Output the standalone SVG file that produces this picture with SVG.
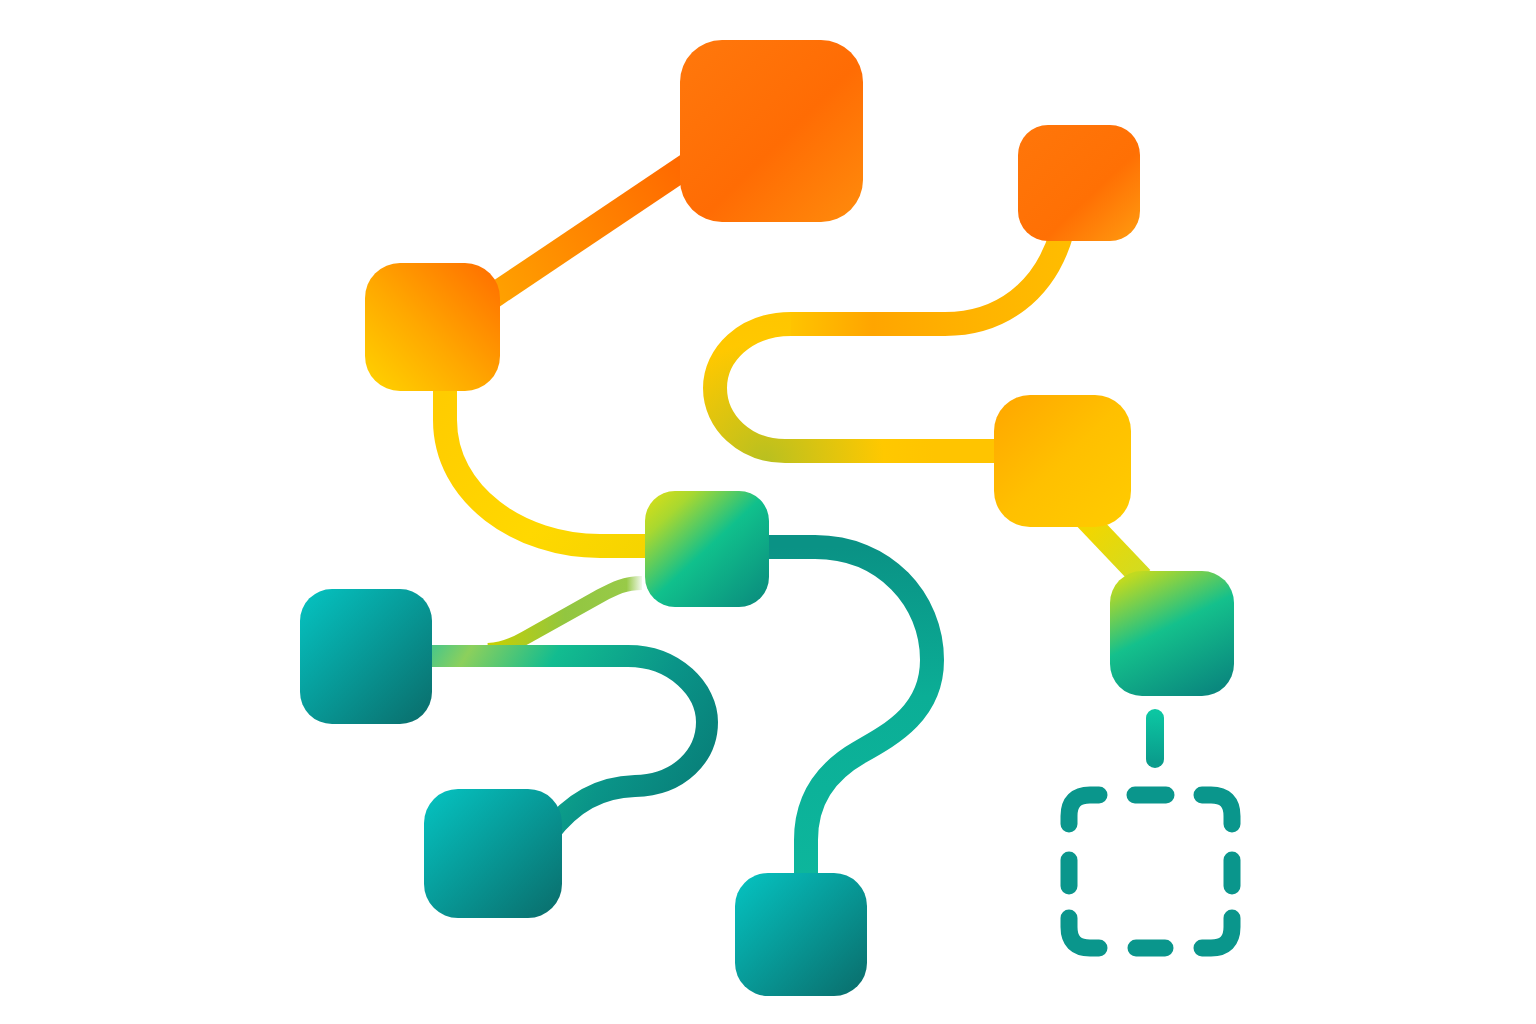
<svg xmlns="http://www.w3.org/2000/svg" width="1536" height="1024" viewBox="0 0 1536 1024">
<style>
.link{fill:none;stroke-linecap:butt;stroke-linejoin:round}
.round{stroke-linecap:round}
.dash{fill:none;stroke:#0A968C;stroke-width:17;stroke-linecap:round}
</style>
<defs>
<linearGradient id="gOrangeBig" x1="0" y1="0" x2="1" y2="1"><stop offset="0" stop-color="#FF780C"/><stop offset="0.55" stop-color="#FF6C04"/><stop offset="1" stop-color="#FF8C0C"/></linearGradient>
<linearGradient id="gOrangeSmall" x1="0" y1="0" x2="1" y2="1"><stop offset="0" stop-color="#FF760A"/><stop offset="0.6" stop-color="#FF7004"/><stop offset="1" stop-color="#FF9C10"/></linearGradient>
<linearGradient id="gOrangeYellow" x1="0" y1="1" x2="1" y2="0"><stop offset="0" stop-color="#FFD400"/><stop offset="0.45" stop-color="#FFA800"/><stop offset="1" stop-color="#FF6C00"/></linearGradient>
<linearGradient id="gYellow" x1="0" y1="0" x2="1" y2="1"><stop offset="0" stop-color="#FFA600"/><stop offset="0.5" stop-color="#FFC000"/><stop offset="1" stop-color="#FFCC00"/></linearGradient>
<linearGradient id="gGreenC" x1="0" y1="0" x2="1" y2="1"><stop offset="0" stop-color="#E2E012"/><stop offset="0.2" stop-color="#A8D830"/><stop offset="0.5" stop-color="#10C08C"/><stop offset="1" stop-color="#0A887C"/></linearGradient>
<linearGradient id="gGreenR" x1="0.25" y1="0" x2="0.75" y2="1"><stop offset="0" stop-color="#C0DA20"/><stop offset="0.45" stop-color="#14C08C"/><stop offset="1" stop-color="#0A887E"/></linearGradient>
<linearGradient id="gTeal" x1="0" y1="0" x2="1" y2="1"><stop offset="0" stop-color="#05C4C2"/><stop offset="1" stop-color="#0A6C6A"/></linearGradient>
<linearGradient id="lA" gradientUnits="userSpaceOnUse" x1="497" y1="293" x2="681" y2="170"><stop offset="0" stop-color="#FFA000"/><stop offset="1" stop-color="#FF6A00"/></linearGradient>
<linearGradient id="lB" gradientUnits="userSpaceOnUse" x1="445" y1="390" x2="650" y2="546"><stop offset="0" stop-color="#FFCC00"/><stop offset="0.6" stop-color="#FFD800"/><stop offset="1" stop-color="#F5D400"/></linearGradient>
<linearGradient id="lC1" gradientUnits="userSpaceOnUse" x1="790" y1="0" x2="1065" y2="0"><stop offset="0" stop-color="#FFC400"/><stop offset="0.3" stop-color="#FFA500"/><stop offset="0.7" stop-color="#FFB400"/><stop offset="1" stop-color="#FFBC00"/></linearGradient>
<radialGradient id="lC2" gradientUnits="userSpaceOnUse" cx="765" cy="462" r="170"><stop offset="0" stop-color="#B8C020"/><stop offset="0.35" stop-color="#DCC410"/><stop offset="0.7" stop-color="#FFC800"/><stop offset="1" stop-color="#FFC400"/></radialGradient>
<linearGradient id="lD" gradientUnits="userSpaceOnUse" x1="1091" y1="525" x2="1139" y2="575"><stop offset="0" stop-color="#F2D600"/><stop offset="1" stop-color="#D2DC20"/></linearGradient>
<linearGradient id="lE" gradientUnits="userSpaceOnUse" x1="0" y1="547" x2="0" y2="880"><stop offset="0" stop-color="#0A9285"/><stop offset="0.45" stop-color="#0BAE96"/><stop offset="1" stop-color="#0DB69C"/></linearGradient>
<linearGradient id="lF" gradientUnits="userSpaceOnUse" x1="642" y1="0" x2="488" y2="0"><stop offset="0" stop-color="#F2F8EE"/><stop offset="0.1" stop-color="#98CA48"/><stop offset="0.5" stop-color="#92C640"/><stop offset="1" stop-color="#C8D000"/></linearGradient>
<linearGradient id="lG" gradientUnits="userSpaceOnUse" x1="440" y1="640" x2="700" y2="800"><stop offset="0" stop-color="#50C884"/><stop offset="0.1" stop-color="#8CD05C"/><stop offset="0.35" stop-color="#12BC90"/><stop offset="0.7" stop-color="#0A9488"/><stop offset="1" stop-color="#087E78"/></linearGradient>
<linearGradient id="lH" gradientUnits="userSpaceOnUse" x1="0" y1="712" x2="0" y2="762"><stop offset="0" stop-color="#0CC6A2"/><stop offset="1" stop-color="#0A9C8C"/></linearGradient>
</defs>
<rect width="1536" height="1024" fill="#FFFFFF"/>
<g id="connectors">
<path class="link" stroke="url(#lA)" stroke-width="25" d="M490,298 L688,165"/>
<path class="link" stroke="url(#lB)" stroke-width="24" d="M445,385 L445,420 C445,495 520,546 600,546 L650,546"/>
<path class="link" stroke="url(#lC1)" stroke-width="24" d="M1062,232 C1045,292 1000,324 945,324 L790,324"/>
<path class="link" stroke="url(#lC2)" stroke-width="24" d="M791,324 C745,324 715,355 715,388 C715,422 745,451 785,451 L1000,451"/>
<path class="link" stroke="url(#lD)" stroke-width="23" d="M1085,518 L1142,578"/>
<path class="link" stroke="url(#lE)" stroke-width="24" d="M765,547 L815,547 C885,547 932,600 932,660 C932,712 892,734 860,752 C825,772 806,800 806,840 L806,880"/>
<path class="link" stroke="url(#lF)" stroke-width="14" d="M642,583 C625,583 615,588 600,596 L525,638 C513,645 503,649 488,650"/>
<path class="link" stroke="url(#lG)" stroke-width="22" d="M428,656 L628,656 C675,656 707,690 707,722 C707,755 680,785 635,786 C600,787 572,802 548,834"/>
<path class="link round" stroke="url(#lH)" stroke-width="18" d="M1155,718 L1155,759"/>
</g>
<g id="node-orange-big"><rect x="680" y="40" width="183" height="182" rx="42" fill="url(#gOrangeBig)"/></g>
<g id="node-orange-small"><rect x="1018" y="125" width="122" height="116" rx="30" fill="url(#gOrangeSmall)"/></g>
<g id="node-orange-yellow"><rect x="365" y="263" width="135" height="128" rx="35" fill="url(#gOrangeYellow)"/></g>
<g id="node-yellow"><rect x="994" y="395" width="137" height="132" rx="36" fill="url(#gYellow)"/></g>
<g id="node-green-center"><rect x="645" y="491" width="124" height="116" rx="30" fill="url(#gGreenC)"/></g>
<g id="node-green-right"><rect x="1110" y="571" width="124" height="125" rx="32" fill="url(#gGreenR)"/></g>
<g id="node-teal-left"><rect x="300" y="589" width="132" height="135" rx="32" fill="url(#gTeal)"/></g>
<g id="node-teal-bottom-left"><rect x="424" y="789" width="138" height="129" rx="34" fill="url(#gTeal)"/></g>
<g id="node-teal-bottom"><rect x="735" y="873" width="132" height="123" rx="33" fill="url(#gTeal)"/></g>
<g id="node-dashed">
<path class="dash" d="M1069,824 L1069,816 Q1069,795 1090,795 L1099,795"/>
<path class="dash" d="M1135,795 L1166,795"/>
<path class="dash" d="M1202,795 L1211,795 Q1232,795 1232,816 L1232,824"/>
<path class="dash" d="M1069,860 L1069,886"/>
<path class="dash" d="M1232,860 L1232,886"/>
<path class="dash" d="M1069,918 L1069,927 Q1069,948 1090,948 L1099,948"/>
<path class="dash" d="M1136,948 L1165,948"/>
<path class="dash" d="M1202,948 L1211,948 Q1232,948 1232,927 L1232,918"/>
</g>
</svg>
